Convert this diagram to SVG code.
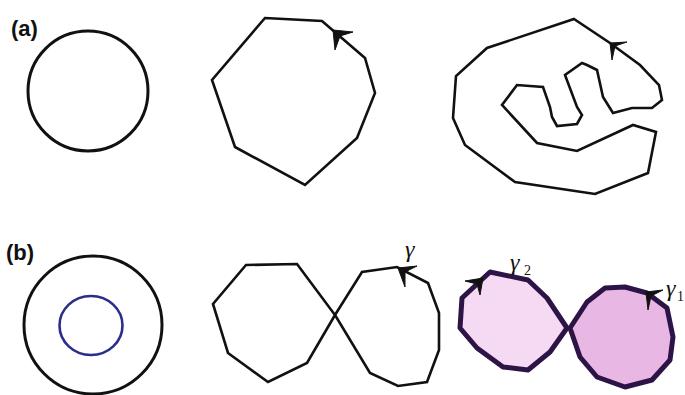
<svg xmlns="http://www.w3.org/2000/svg" width="685" height="395" viewBox="0 0 685 395">
<style>
.lbl{font-family:"Liberation Sans",Arial,sans-serif;font-weight:bold;font-size:22px;fill:#111}
.gam{font-family:"Liberation Serif","Times New Roman",serif;font-style:italic;font-size:24px;fill:#111}
.sub{font-family:"Liberation Serif","Times New Roman",serif;font-size:14px;fill:#111}
.ln{fill:none;stroke:#111;stroke-width:2.6;stroke-linejoin:miter}
.pl{stroke:#2d1446;stroke-width:5;stroke-linejoin:round}
.ah{fill:#111;stroke:#111;stroke-width:1;stroke-linejoin:miter}
</style>
<rect width="685" height="395" fill="#fff"/>
<text class="lbl" x="11" y="36">(a)</text>
<text class="lbl" x="6" y="260">(b)</text>
<g id="a-circle">
<circle cx="88" cy="91" r="60" fill="none" stroke="#111" stroke-width="3"/>
</g>
<g id="a-polygon">
<polygon class="ln" points="265,18 322,21 365,58 375,93 357,138 305,185 235,147 212,80"/>
<path class="ah" d="M333,30 L353,32 L340,36 L335,50 Z"/>
</g>
<g id="a-spiral">
<polygon class="ln" points="574,19 610,43 640,65 659,85 662,100 652,108 632,108 613,113 603,97 597,70 587,65 582,63 565,75 577,107 582,115 577,124 557,126 552,117 550,107 543,87 517,85 502,105 537,143 577,151 633,125 656,132 648,173 595,194 515,182 465,145 453,118 456,76 487,48"/>
<path class="ah" d="M610,43 L627,42 L615,46 L612,60 Z"/>
</g>
<g id="b-circles">
<circle cx="93" cy="325" r="69" fill="none" stroke="#111" stroke-width="3"/>
<ellipse cx="91" cy="325.5" rx="31.5" ry="29.5" fill="none" stroke="#2b2d8c" stroke-width="2.6"/>
</g>
<g id="b-eight">
<path class="ln" d="M335,315 L307,363 L268,382 L228,353 L213,304 L246,265 L297,264 Z"/>
<path class="ln" d="M335,315 L362,272 L397,267 L428,283 L439,313 L439,350 L427,382 L398,386 L370,373 Z"/>
<path class="ah" d="M398,268 L417,266 L405,272 L405,287 Z"/>
<text class="gam" x="405" y="257">γ</text>
</g>
<g id="b-loop2">
<polygon class="pl" fill="#f6d9f3" points="490,272 528,280 547,298 567,328 550,352 528,370 503,367 477,348 460,328 462,298"/>
<path class="ah" d="M483,278 L465,281 L477,284 L480,295 Z"/>
<text class="gam" x="510" y="270">γ</text><text class="sub" x="524" y="275">2</text>
</g>
<g id="b-loop1">
<polygon class="pl" fill="#e9b7e4" points="570,328 587,302 605,288 625,287 647,293 667,308 673,337 670,360 652,380 625,387 597,377 580,357"/>
<path class="ah" d="M646,292 L663,290 L651,296 L648,310 Z"/>
<text class="gam" x="666" y="296">γ</text><text class="sub" x="677" y="301">1</text>
</g>
</svg>
